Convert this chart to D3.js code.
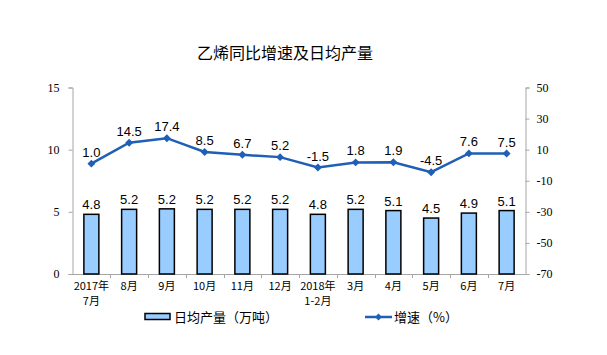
<!DOCTYPE html>
<html><head><meta charset="utf-8">
<script src="https://cdn.jsdelivr.net/npm/d3@7"></script>
<style>body{margin:0;background:#fff}</style>
</head><body>
<svg id="c" width="607" height="355"></svg>
<script>
const categories = [["2017年","7月"],["8月"],["9月"],["10月"],["11月"],["12月"],["2018年","1-2月"],["3月"],["4月"],["5月"],["6月"],["7月"]];
const output = [4.8,5.2,5.24,5.2,5.2,5.2,4.8,5.2,5.1,4.5,4.9,5.1];
const growth = [1.0,14.5,17.4,8.5,6.7,5.2,-1.5,1.8,1.9,-4.5,7.6,7.5];
const leftTicks = [0,5,10,15];
const rightTicks = [-70,-50,-30,-10,10,30,50];
const title = "乙烯同比增速及日均产量";
const legendBar = "日均产量（万吨）";
const legendLine = "增速（%）";

const svg = d3.select("#c");
const L = 72.5, R = 525.5, T = 87.5, B = 274;
const x = d3.scaleBand().domain(d3.range(categories.length)).range([L, R]);
const yL = d3.scaleLinear().domain([0,15]).range([B,T]);
const yR = d3.scaleLinear().domain([-70,50]).range([B,T]);
const axisCol = "#a6a6a6";
const cjk = "'Noto Sans CJK SC', sans-serif";

svg.append("text").attr("x",285).attr("y",59).attr("text-anchor","middle")
  .style("font-family",cjk).style("font-size","16px").attr("fill","#000").text(title);

const gl = svg.append("g").attr("transform",`translate(${L},0)`)
  .call(d3.axisLeft(yL).tickValues(leftTicks).tickFormat(d=>String(d)).tickSize(4).tickPadding(9));
gl.selectAll("path,line").attr("stroke",axisCol);
gl.selectAll("text").style("font-family","'Liberation Serif', serif").style("font-size","12px").attr("fill","#000");

const gr = svg.append("g").attr("transform",`translate(${R},0)`)
  .call(d3.axisRight(yR).tickValues(rightTicks).tickFormat(d=>String(d)).tickSize(4).tickPadding(7));
gr.selectAll("path,line").attr("stroke",axisCol);
gr.selectAll("text").style("font-family","'Liberation Serif', serif").style("font-size","12px").attr("fill","#000");

svg.append("line").attr("x1",L).attr("x2",R).attr("y1",B+0.5).attr("y2",B+0.5).attr("stroke",axisCol);
svg.selectAll("line.xt").data(d3.range(1,categories.length)).join("line")
  .attr("x1",d=>Math.round(x(d))+0.5).attr("x2",d=>Math.round(x(d))+0.5)
  .attr("y1",B).attr("y2",B+4).attr("stroke",axisCol);

const cl = svg.selectAll("text.cat").data(categories).join("text")
  .attr("text-anchor","middle").style("font-family",cjk).style("font-size","11px").attr("fill","#000");
cl.each(function(d,i){
  const t = d3.select(this);
  d.forEach((s,j)=>t.append("tspan").attr("x",x(i)+x.bandwidth()/2).attr("y",290+j*14.5).text(s));
});

const bw = 15;
svg.selectAll("rect.bar").data(output).join("rect")
  .attr("x",(d,i)=>x(i)+x.bandwidth()/2-bw/2).attr("width",bw)
  .attr("y",d=>yL(d)).attr("height",d=>B-yL(d))
  .attr("fill","#99ccff").attr("stroke","#000").attr("stroke-width",1.5);
svg.selectAll("text.bl").data(output).join("text")
  .attr("x",(d,i)=>x(i)+x.bandwidth()/2).attr("y",d=>yL(d)-5)
  .attr("text-anchor","middle").style("font-family","'Liberation Sans', Arial, sans-serif").style("font-size","13px")
  .text(d=>d.toFixed(1));

const lineCol = "#1f5fb5";
const line = d3.line().x((d,i)=>x(i)+x.bandwidth()/2).y(d=>yR(d));
svg.append("path").datum(growth).attr("d",line).attr("fill","none").attr("stroke",lineCol).attr("stroke-width",2.5);
svg.selectAll("path.mk").data(growth).join("path")
  .attr("d",d3.symbol().type(d3.symbolDiamond2).size(40))
  .attr("transform",(d,i)=>`translate(${x(i)+x.bandwidth()/2},${yR(d)})`).attr("fill",lineCol);
svg.selectAll("text.ll").data(growth).join("text")
  .attr("x",(d,i)=>x(i)+x.bandwidth()/2).attr("y",d=>yR(d)-7)
  .attr("text-anchor","middle").style("font-family","'Liberation Sans', Arial, sans-serif").style("font-size","13px")
  .text(d=>d.toFixed(1));

svg.append("rect").attr("x",145).attr("y",313.5).attr("width",25).attr("height",6)
  .attr("fill","#99ccff").attr("stroke","#000").attr("stroke-width",1.5);
svg.append("text").attr("x",174).attr("y",321.5).style("font-family",cjk).style("font-size","13px").text(legendBar);
svg.append("line").attr("x1",365).attr("x2",392).attr("y1",317).attr("y2",317).attr("stroke",lineCol).attr("stroke-width",2.5);
svg.append("path").attr("d",d3.symbol().type(d3.symbolDiamond2).size(30)).attr("transform","translate(378.5,317)").attr("fill",lineCol);
svg.append("text").attr("x",394).attr("y",321.5).style("font-family",cjk).style("font-size","13px").text(legendLine);
</script>
</body></html>
